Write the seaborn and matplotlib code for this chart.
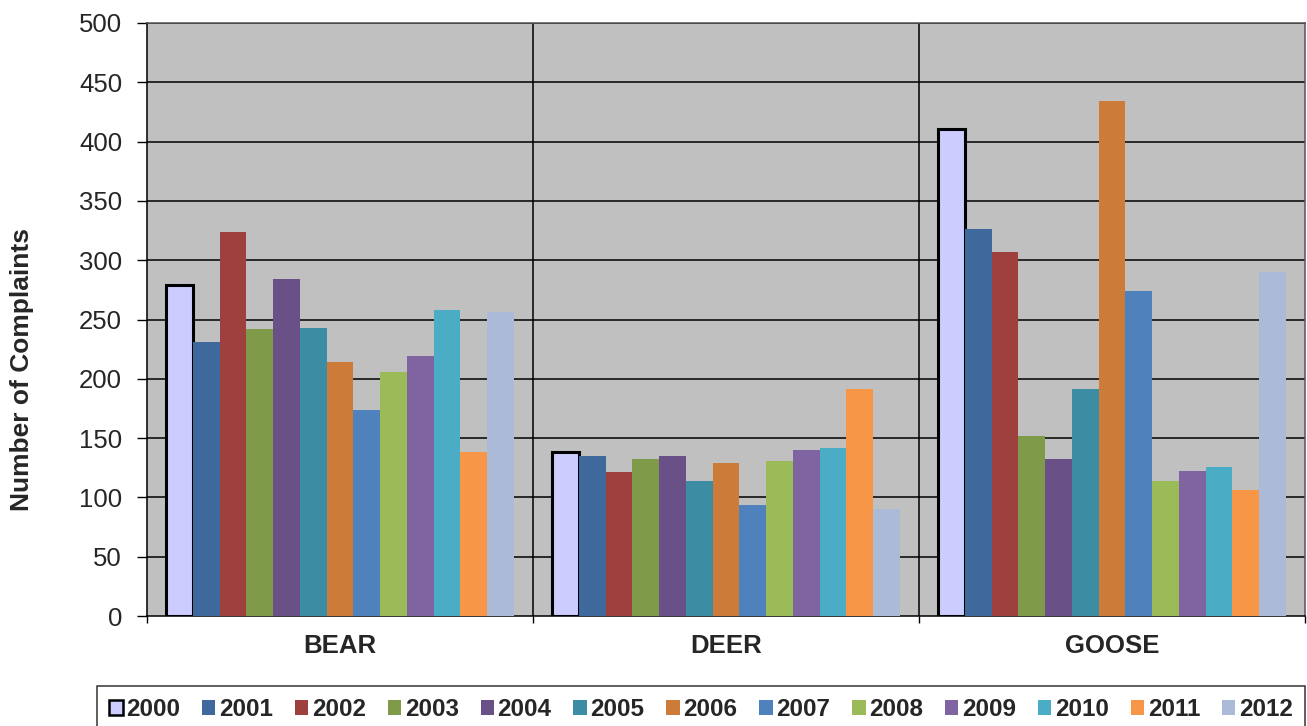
import matplotlib
matplotlib.use("Agg")
import matplotlib.pyplot as plt
from matplotlib.ticker import MultipleLocator, FixedLocator
import seaborn as sns
import pandas as pd

# Complaint counts by species and year
species = ["BEAR", "DEER", "GOOSE"]
years = ["2000", "2001", "2002", "2003", "2004", "2005", "2006",
         "2007", "2008", "2009", "2010", "2011", "2012"]
bear = [279, 231, 324, 242, 284, 243, 214, 174, 206, 219, 258, 138, 256]
deer = [138, 135, 121, 132, 135, 114, 129, 94, 131, 140, 142, 191, 90]
goose = [411, 326, 307, 152, 132, 191, 434, 274, 114, 122, 126, 106, 290]

colors = ["#CCCCFF", "#3F699C", "#9E403E", "#7F9A48", "#695086", "#3C8DA3",
          "#CC7B38", "#4F81BD", "#9BBB59", "#8064A2", "#4BACC6", "#F79646",
          "#AABAD7"]

rows = []
for name, vals in zip(species, [bear, deer, goose]):
    for yr, v in zip(years, vals):
        rows.append({"Species": name, "Year": yr, "Complaints": v})
df = pd.DataFrame(rows)

sns.set_style("white")
plt.rcParams["font.family"] = ["Liberation Sans", "DejaVu Sans"]

W, H = 1307, 726
fig = plt.figure(figsize=(W / 100, H / 100), dpi=100)
ax = fig.add_axes([147 / W, 1 - 616 / H, (1305 - 147) / W, (616 - 23) / H])
ax.set_facecolor("#C0C0C0")

sns.barplot(data=df, x="Species", y="Complaints", hue="Year",
            order=species, hue_order=years, palette=colors,
            width=0.9, gap=0, dodge=True, saturation=1,
            edgecolor="none", linewidth=0, ax=ax, zorder=3)

# outline the first year's bars
for bar in ax.containers[0]:
    bar.set_edgecolor("black")
    bar.set_linewidth(2.2)

ax.set_ylim(0, 500)
ax.set_xlim(-0.5, 2.5)
ax.yaxis.set_major_locator(MultipleLocator(50))
ax.grid(False)
for yv in range(50, 501, 50):
    ax.axhline(yv, color="black", linewidth=1.1, zorder=1)
for xv in [0.5, 1.5]:
    ax.axvline(xv, color="black", linewidth=1.1, zorder=1)

for side in ["left", "bottom"]:
    ax.spines[side].set_color("black")
    ax.spines[side].set_linewidth(1.1)
for side in ["top", "right"]:
    ax.spines[side].set_color("#555555")
    ax.spines[side].set_linewidth(1.1)

ax.tick_params(axis="y", which="major", direction="out", length=7, width=1,
               color="black", pad=11, labelsize=18.5, left=True)
ax.tick_params(axis="x", which="major", length=0, pad=13, labelsize=18.5)
ax.xaxis.set_minor_locator(FixedLocator([-0.5, 0.5, 1.5, 2.5]))
ax.tick_params(axis="x", which="minor", direction="out", length=5, width=1,
               color="black", bottom=True)
for lbl in ax.get_xticklabels():
    lbl.set_fontweight("bold")

ax.set_xlabel("")
ax.set_ylabel("Number of Complaints", fontsize=19, fontweight="bold")
ax.yaxis.set_label_coords(-113 / (1305 - 147), (616 - 369.5) / (616 - 23))

handles, labels = ax.get_legend_handles_labels()
ax.get_legend().remove()
handles[0].set_edgecolor("black")
handles[0].set_linewidth(1.8)
leg = fig.legend(handles, labels, loc="upper left",
                 bbox_to_anchor=(97 / W, 1 - 686 / H), ncol=13,
                 frameon=True, fancybox=False, borderaxespad=0,
                 prop={"size": 17.5, "weight": "bold"},
                 handlelength=0.55, handleheight=0.55, handletextpad=0.15,
                 columnspacing=0.9, borderpad=0.5)
leg.get_frame().set_edgecolor("black")
leg.get_frame().set_linewidth(1.1)

fig.savefig("out.png", dpi=100)
